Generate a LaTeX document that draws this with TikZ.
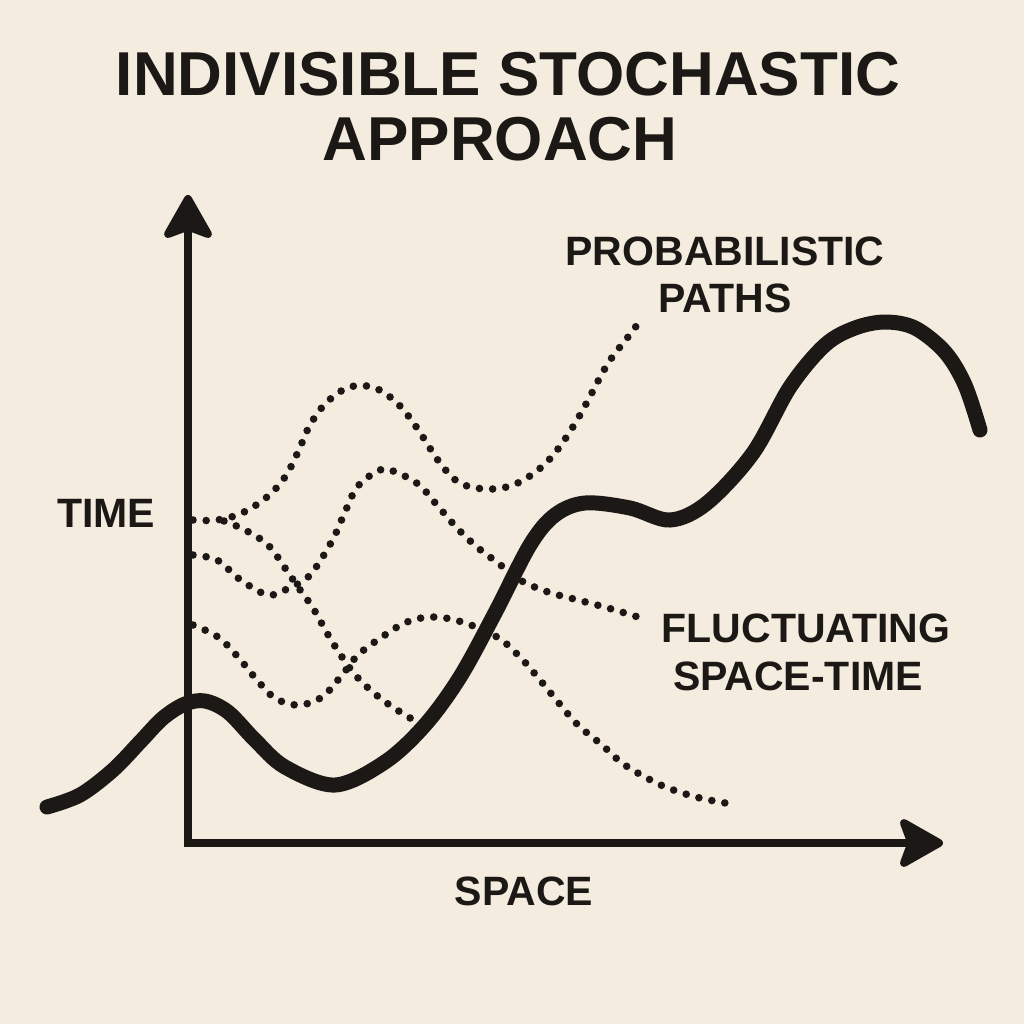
\documentclass[tikz,border=0pt]{standalone}
\usepackage{fontspec}
\setmainfont{Liberation Sans}
\usetikzlibrary{arrows.meta}
\definecolor{paper}{HTML}{F4ECDF}
\definecolor{ink}{HTML}{1B1815}

\begin{document}
\begin{tikzpicture}[x=0.5pt,y=-0.5pt,
  axis/.style={ink,line width=4pt,line join=miter,
    {Stealth[length=25pt,width=28pt,inset=5pt,round]}-{Stealth[length=25pt,width=28pt,inset=5pt,round]}},
  wave/.style={ink,line width=7.5pt,line cap=round},
  dotpath/.style={ink,line width=3.8pt,line cap=round,dash pattern=on 0pt off 6.6pt},
  heading/.style={ink,anchor=base,inner sep=0pt,font=\fontsize{31}{33}\selectfont\bfseries},
  lbl/.style={ink,anchor=base,inner sep=0pt,font=\fontsize{20.5}{23}\selectfont\bfseries}]
\fill [paper] (0,0) rectangle (1024,1024);
% title
\node [heading] (title1) at (508,95) {INDIVISIBLE STOCHASTIC};
\node [heading] (title2) at (500,160) {APPROACH};
% axes
\coordinate (ytip) at (188,195);
\coordinate (xtip) at (943,843);
\draw [axis] (ytip) |- (xtip);
\node [lbl] (time) at (106,527) {TIME};
\node [lbl] (space) at (524,905) {SPACE};
% probabilistic paths
\draw [dotpath] plot [smooth,tension=0.6] coordinates {(193,520) (217,520) (242,513) (267,497) (285,477) (298,452) (310,425) (327,402) (350,387) (375,388) (398,404) (417,428) (440,463) (460,483) (487,489) (513,485) (538,470) (558,449) (580,415) (607,365) (628,337) (643,317)};
\draw [dotpath] plot [smooth,tension=0.6] coordinates {(224,521) (245,530) (268,545) (285,568) (298,587) (313,608) (327,633) (342,657) (358,678) (380,698) (405,715) (418,722)};
\draw [dotpath] plot [smooth,tension=0.6] coordinates {(193,555) (217,560) (238,578) (260,592) (272,595) (285,590) (307,578) (322,558) (335,535) (345,512) (358,486) (380,470) (393,471) (418,484) (437,505) (457,528) (477,547) (498,563) (520,580) (548,592) (578,600) (608,608) (638,617)};
\draw [dotpath] plot [smooth,tension=0.6] coordinates {(193,625) (218,637) (238,657) (257,680) (275,698) (298,705) (322,697) (342,675) (358,655) (382,637) (407,622) (433,617) (462,622) (497,637) (520,657) (540,680) (558,702) (578,725) (602,745) (622,763) (645,777) (668,788) (700,798) (737,805)};
% fluctuating space-time
\draw [wave] plot [smooth,tension=0.55] coordinates {(47,807) (80,795) (113,770) (140,742) (163,718) (185,704) (205,701) (228,712) (255,740) (285,767) (335,785) (385,762) (425,725) (460,677) (495,613) (530,545) (555,515) (585,503) (630,508) (670,520) (707,503) (753,453) (790,387) (825,345) (855,328) (885,322) (915,328) (945,352) (965,385) (980,430)};
\node [lbl] (prob1) at (725,265) {PROBABILISTIC};
\node [lbl] (prob2) at (725,312) {PATHS};
\node [lbl] (fluct1) at (806,642) {FLUCTUATING};
\node [lbl] (fluct2) at (798,690) {SPACE-TIME};
\end{tikzpicture}
\end{document}
